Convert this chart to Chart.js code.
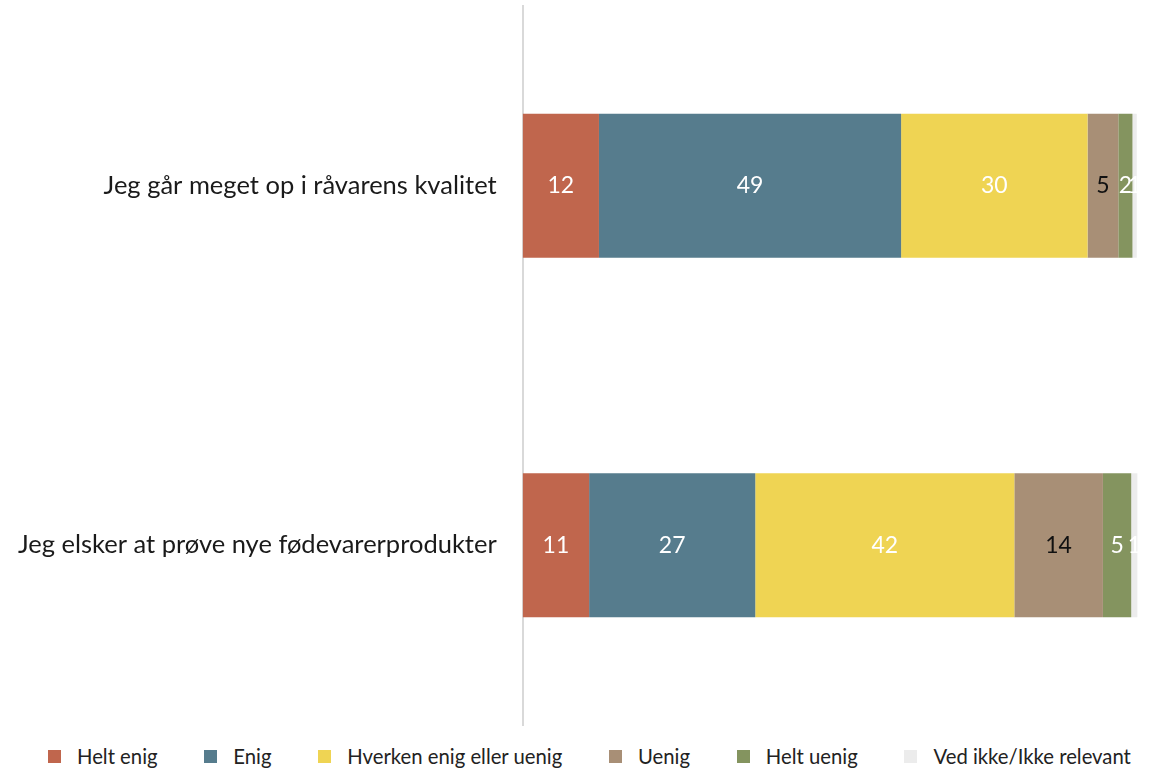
<!DOCTYPE html>
<html>
<head>
<meta charset="utf-8">
<script src="https://cdn.jsdelivr.net/npm/chart.js@4"></script>
<style>
  body { margin: 0; background: #fff; font-family: Lato, "Noto Sans", sans-serif; }
  #wrap { position: relative; width: 1152px; height: 740px; }
  #legend { display: flex; justify-content: flex-start; align-items: center; height: 32px; width: 1152px; box-sizing: border-box; padding-left: 24.6px; font-size: 20.3px; color: #222; white-space: nowrap; }
  .item { display: flex; align-items: center; margin: 0 23.4px; flex-shrink: 0; }
  .box { width: 13px; height: 13px; margin-right: 16px; }
</style>
</head>
<body>
<div id="wrap"><canvas id="chart" width="1152" height="740"></canvas></div>
<div id="legend"></div>
<script>
let categories = ['Jeg går meget op i råvarens kvalitet', 'Jeg elsker at prøve nye fødevarerprodukter']
let seriesNames = ['Helt enig', 'Enig', 'Hverken enig eller uenig', 'Uenig', 'Helt uenig', 'Ved ikke/Ikke relevant']
let heltEnig = [12.4, 10.8]
let enig = [49.1, 27.0]
let hverken = [30.3, 42.1]
let uenig = [5.0, 14.4]
let heltUenig = [2.3, 4.6]
let vedIkke = [0.7, 1.0]
let xTicks = [0, 100]

const colors = ['#c0664d', '#567c8d', '#efd453', '#a88f76', '#84945f', '#ececec']
const labelColors = ['#fff', '#fff', '#fff', '#111', '#fff', '#fff']
const seriesValues = [heltEnig, enig, hverken, uenig, heltUenig, vedIkke]

const datasets = seriesNames.map((name, i) => ({
    label: name,
    data: seriesValues[i],
    backgroundColor: colors[i],
    borderWidth: 0,
    barPercentage: 0.5,
    categoryPercentage: 0.8
}))

// draw the rounded values in the middle of each segment
const barLabels = {
    id: 'barLabels',
    afterDatasetsDraw(chart) {
        const ctx = chart.ctx
        ctx.save()
        ctx.font = '23px Lato, "Noto Sans", sans-serif'
        ctx.textAlign = 'center'
        ctx.textBaseline = 'middle'
        chart.data.datasets.forEach((ds, i) => {
            const meta = chart.getDatasetMeta(i)
            meta.data.forEach((bar, j) => {
                ctx.fillStyle = labelColors[i]
                ctx.fillText(Math.round(ds.data[j]), (bar.x + bar.base) / 2, bar.y)
            })
        })
        ctx.restore()
    }
}

const chart = new Chart(document.getElementById('chart'), {
    type: 'bar',
    data: { labels: categories, datasets: datasets },
    options: {
        indexAxis: 'y',
        responsive: false,
        animation: false,
        layout: { padding: { left: 18, right: 14, top: 6, bottom: 15 } },
        plugins: {
            legend: { display: false },
            tooltip: { enabled: false }
        },
        scales: {
            x: {
                stacked: true,
                min: xTicks[0],
                max: xTicks[1],
                display: false
            },
            y: {
                stacked: true,
                grid: { display: false, drawTicks: false },
                border: { display: true, color: '#d9d9d9', width: 2 },
                ticks: {
                    color: '#1a1a1a',
                    padding: 26,
                    font: { family: 'Lato, "Noto Sans", sans-serif', size: 25.5 }
                },
                afterFit: (scale) => {
                    // tick padding is counted twice and also pads top/bottom
                    scale.paddingTop = 0
                    scale.paddingBottom = 0
                    scale.width = scale.width - 26
                }
            }
        }
    },
    plugins: [barLabels]
})

const legend = document.getElementById('legend')
seriesNames.forEach((name, i) => {
    const item = document.createElement('div')
    item.className = 'item'
    item.innerHTML = '<span class="box" style="background:' + colors[i] + '"></span><span>' + name + '</span>'
    legend.appendChild(item)
})
</script>
</body>
</html>
